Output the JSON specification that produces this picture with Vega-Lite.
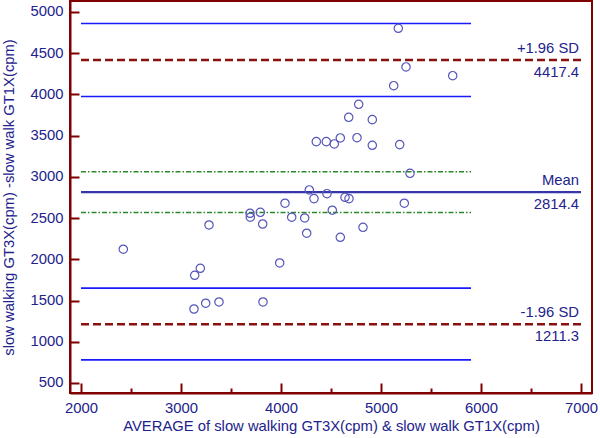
{
  "$schema": "https://vega.github.io/schema/vega-lite/v6.json",
  "width": 522,
  "height": 392,
  "autosize": {"type": "none"},
  "padding": {"left": 70, "top": 1, "right": 8, "bottom": 45},
  "background": "white",
  "config": {
    "view": {"stroke": "#800000", "strokeWidth": 2},
    "font": "Liberation Sans",
    "axis": {
      "domainColor": "#800000",
      "domainWidth": 2,
      "tickColor": "#800000",
      "tickWidth": 2,
      "grid": false,
      "labelFont": "Liberation Sans",
      "labelFontSize": 14.8,
      "labelColor": "#22228c",
      "titleFont": "Liberation Sans",
      "titleFontSize": 14.8,
      "titleFontWeight": "normal",
      "titleColor": "#22228c"
    }
  },
  "layer": [
    {
      "data": {"values": [
        {"y": 4860, "x": 2000, "x2": 5900, "type": "ci"},
        {"y": 3975, "x": 2000, "x2": 5900, "type": "ci"},
        {"y": 1650, "x": 2000, "x2": 5900, "type": "ci"},
        {"y": 780, "x": 2000, "x2": 5900, "type": "ci"},
        {"y": 3063, "x": 2000, "x2": 5900, "type": "mci"},
        {"y": 2568, "x": 2000, "x2": 5900, "type": "mci"},
        {"y": 4417.4, "x": 2000, "x2": 7000, "type": "sd"},
        {"y": 1211.3, "x": 2000, "x2": 7000, "type": "sd"},
        {"y": 2814.4, "x": 2000, "x2": 7000, "type": "mean"}
      ]},
      "layer": [
        {
          "transform": [{"filter": "datum.type == 'ci'"}],
          "mark": {"type": "rule", "color": "#1a1aff", "strokeWidth": 1.6},
          "encoding": {
            "x": {"field": "x", "type": "quantitative", "scale": {"domain": [1890, 7110], "nice": false, "zero": false},
              "axis": {"title": "AVERAGE of slow walking GT3X(cpm) & slow walk GT1X(cpm)",
                "values": [2000, 2500, 3000, 3500, 4000, 4500, 5000, 5500, 6000, 6500, 7000],
                "labelExpr": "datum.value % 1000 == 0 ? format(datum.value, 'd') : ''",
                "tickSize": {"condition": {"test": "datum.value % 1000 == 0", "value": -10}, "value": -5},
                "labelPadding": 17, "titlePadding": 4}},
            "x2": {"field": "x2"},
            "y": {"field": "y", "type": "quantitative", "scale": {"domain": [378, 5133], "nice": false, "zero": false},
              "axis": {"title": "slow walking GT3X(cpm) -slow walk GT1X(cpm)",
                "values": [500, 1000, 1500, 2000, 2500, 3000, 3500, 4000, 4500, 5000],
                "format": "d", "tickSize": -9, "labelPadding": 16, "titlePadding": 14}}
          }
        },
        {
          "transform": [{"filter": "datum.type == 'mci'"}],
          "mark": {"type": "rule", "color": "#2a8a2a", "strokeWidth": 1.5, "strokeDash": [5, 2, 1.5, 2]},
          "encoding": {
            "x": {"field": "x", "type": "quantitative"},
            "x2": {"field": "x2"},
            "y": {"field": "y", "type": "quantitative"}
          }
        },
        {
          "transform": [{"filter": "datum.type == 'sd'"}],
          "mark": {"type": "rule", "color": "#8b1010", "strokeWidth": 2.4, "strokeDash": [8, 4]},
          "encoding": {
            "x": {"field": "x", "type": "quantitative"},
            "x2": {"field": "x2"},
            "y": {"field": "y", "type": "quantitative"}
          }
        },
        {
          "transform": [{"filter": "datum.type == 'mean'"}],
          "mark": {"type": "rule", "color": "#3636a8", "strokeWidth": 2.2},
          "encoding": {
            "x": {"field": "x", "type": "quantitative"},
            "x2": {"field": "x2"},
            "y": {"field": "y", "type": "quantitative"}
          }
        }
      ]
    },
    {
      "data": {"values": [
        {"x": 5173, "y": 4802}, {"x": 5250, "y": 4333}, {"x": 5717, "y": 4227}, {"x": 5127, "y": 4106},
        {"x": 4777, "y": 3880}, {"x": 4677, "y": 3722}, {"x": 4913, "y": 3694}, {"x": 4353, "y": 3427},
        {"x": 4453, "y": 3427}, {"x": 4533, "y": 3399}, {"x": 4593, "y": 3472}, {"x": 4760, "y": 3475},
        {"x": 4913, "y": 3383}, {"x": 5187, "y": 3391}, {"x": 5290, "y": 3043}, {"x": 4283, "y": 2841},
        {"x": 4460, "y": 2796}, {"x": 4330, "y": 2736}, {"x": 4640, "y": 2752}, {"x": 4680, "y": 2736},
        {"x": 4040, "y": 2680}, {"x": 5233, "y": 2680}, {"x": 3690, "y": 2558}, {"x": 3693, "y": 2510},
        {"x": 3793, "y": 2570}, {"x": 4513, "y": 2595}, {"x": 4107, "y": 2510}, {"x": 4237, "y": 2501},
        {"x": 3280, "y": 2416}, {"x": 3817, "y": 2428}, {"x": 4257, "y": 2316}, {"x": 4593, "y": 2267},
        {"x": 4820, "y": 2388}, {"x": 3987, "y": 1955}, {"x": 3193, "y": 1891}, {"x": 3137, "y": 1806},
        {"x": 3130, "y": 1397}, {"x": 3247, "y": 1467}, {"x": 3380, "y": 1482}, {"x": 3820, "y": 1482},
        {"x": 2423, "y": 2122}
      ]},
      "mark": {"type": "point", "shape": "circle", "filled": false, "color": "#5555bb", "size": 70, "strokeWidth": 1.2, "opacity": 1},
      "encoding": {
        "x": {"field": "x", "type": "quantitative"},
        "y": {"field": "y", "type": "quantitative"}
      }
    },
    {
      "data": {"values": [
        {"label": "+1.96 SD", "y": 4417.4, "pos": "above"},
        {"label": "4417.4", "y": 4417.4, "pos": "below"},
        {"label": "Mean", "y": 2814.4, "pos": "above"},
        {"label": "2814.4", "y": 2814.4, "pos": "below"},
        {"label": "-1.96 SD", "y": 1211.3, "pos": "above"},
        {"label": "1211.3", "y": 1211.3, "pos": "below"}
      ]},
      "layer": [
        {
          "transform": [{"filter": "datum.pos == 'above'"}],
          "mark": {"type": "text", "align": "right", "baseline": "middle", "dy": -11, "dx": -2, "fontSize": 14.8, "color": "#22228c", "font": "Liberation Sans"},
          "encoding": {
            "x": {"datum": 7000, "type": "quantitative"},
            "y": {"field": "y", "type": "quantitative"},
            "text": {"field": "label"}
          }
        },
        {
          "transform": [{"filter": "datum.pos == 'below'"}],
          "mark": {"type": "text", "align": "right", "baseline": "middle", "dy": 13, "dx": -2, "fontSize": 14.8, "color": "#22228c", "font": "Liberation Sans"},
          "encoding": {
            "x": {"datum": 7000, "type": "quantitative"},
            "y": {"field": "y", "type": "quantitative"},
            "text": {"field": "label"}
          }
        }
      ]
    }
  ]
}
